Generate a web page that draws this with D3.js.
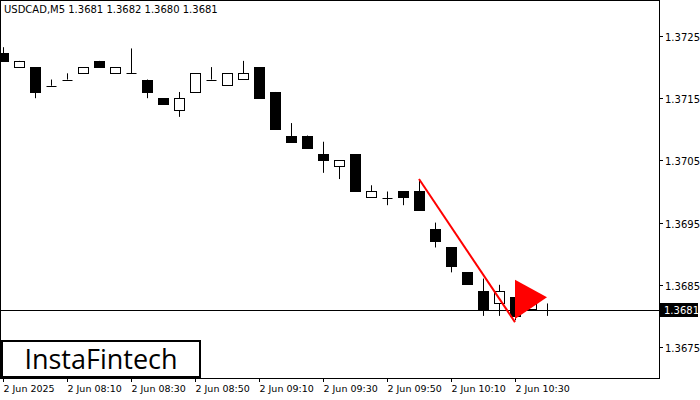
<!DOCTYPE html><html><head><meta charset="utf-8"><script src="https://cdn.jsdelivr.net/npm/d3@7"></script>
<style>body{margin:0;background:#fff}svg{display:block;font-family:Tahoma,"DejaVu Sans",sans-serif}</style></head><body><svg id="c" width="700" height="400"></svg>
<script>
const times=["07:50","07:55","08:00","08:05","08:10","08:15","08:20","08:25","08:30","08:35","08:40","08:45","08:50","08:55","09:00","09:05","09:10","09:15","09:20","09:25","09:30","09:35","09:40","09:45","09:50","09:55","10:00","10:05","10:10","10:15","10:20","10:25","10:30","10:35","10:40"];
const open =[1.37223,1.3720,1.3720,1.3717,1.3718,1.3719,1.3721,1.3719,1.3719,1.3718,1.3715,1.3713,1.3716,1.3718,1.3717,1.3718,1.3720,1.3716,1.3709,1.3709,1.3706,1.3704,1.3706,1.3699,1.3699,1.3700,1.3700,1.3694,1.3691,1.3687,1.3684,1.3682,1.3683,1.3681,1.3681];
const high =[1.37232,1.3721,1.3720,1.3718,1.3719,1.3720,1.3721,1.3720,1.3723,1.3718,1.3715,1.3716,1.3719,1.3720,1.3719,1.3721,1.3720,1.3716,1.3711,1.3709,1.3708,1.3705,1.3706,1.3701,1.3700,1.3700,1.3702,1.3695,1.3691,1.3687,1.3686,1.3685,1.3683,1.3684,1.3682];
const low  =[1.3721,1.3720,1.3715,1.3717,1.3718,1.3719,1.3720,1.3719,1.3719,1.3715,1.3714,1.3712,1.3716,1.3718,1.3717,1.3718,1.3715,1.3710,1.3708,1.3707,1.3703,1.3702,1.3700,1.3699,1.36978,1.36978,1.3697,1.3691,1.3687,1.3685,1.3680,1.3680,1.36793,1.3681,1.3680];
const close=[1.3721,1.3721,1.3716,1.3717,1.3718,1.3720,1.3720,1.3720,1.3719,1.3716,1.3714,1.3715,1.3719,1.3718,1.3719,1.3719,1.3715,1.3710,1.3708,1.3707,1.3705,1.3705,1.3700,1.3700,1.3699,1.3699,1.3697,1.3692,1.3688,1.3685,1.3681,1.3684,1.3680,1.3682,1.3681];
const priceTicks=[1.3725,1.3715,1.3705,1.3695,1.3685,1.3675];
const timeTicks=[0,4,8,12,16,20,24,28,32];
const timeLabels=["2 Jun 2025","2 Jun 08:10","2 Jun 08:30","2 Jun 08:50","2 Jun 09:10","2 Jun 09:30","2 Jun 09:50","2 Jun 10:10","2 Jun 10:30"];
const lastPrice=1.3681;
const patternLine=[[26,1.3702],[32,1.3679]];
const patternTri=[[32,1.36858],[34,1.3683],[32,1.36795]];

const svg=d3.select("#c");
const x=d3.scaleLinear().domain([-0.1875,40.875]).range([0,657]);
const y=d3.scaleLinear().domain([1.3675,1.3725]).range([347,36]);
const AX=659, AY=378;
svg.append("rect").attr("x",0.5).attr("y",0.5).attr("width",AX).attr("height",AY).attr("fill","none").attr("stroke","#000");
const g=svg.append("g");
times.forEach((t,i)=>{
  const cx=Math.round(x(i))+0.5;
  g.append("line").attr("x1",cx).attr("x2",cx).attr("y1",y(high[i])).attr("y2",y(low[i])).attr("stroke","#000");
  const top=y(Math.max(open[i],close[i])), bot=y(Math.min(open[i],close[i]));
  if(bot-top<1){g.append("line").attr("x1",cx-5).attr("x2",cx+5).attr("y1",Math.round(top)+0.5).attr("y2",Math.round(top)+0.5).attr("stroke","#000");}
  else g.append("rect").attr("x",cx-5).attr("y",Math.round(top)+0.5).attr("width",10).attr("height",Math.round(bot-top))
    .attr("fill",close[i]<open[i]?"#000":"#fff").attr("stroke","#000");
});
svg.append("line").attr("x1",0).attr("x2",AX).attr("y1",Math.round(y(lastPrice))+0.5).attr("y2",Math.round(y(lastPrice))+0.5).attr("stroke","#000");
svg.append("line").attr("x1",x(patternLine[0][0])).attr("y1",y(patternLine[0][1])).attr("x2",x(patternLine[1][0])).attr("y2",y(patternLine[1][1])).attr("stroke","#f00").attr("stroke-width",2);
svg.append("polygon").attr("points",patternTri.map(d=>[x(d[0]),y(d[1])].join(",")).join(" ")).attr("fill","#f00");
// price axis
priceTicks.forEach(p=>{const yy=Math.round(y(p))+0.5;
  svg.append("line").attr("x1",AX).attr("x2",AX+4).attr("y1",yy).attr("y2",yy).attr("stroke","#000");
  svg.append("text").attr("x",665).attr("y",yy+4).attr("font-size",10).text(p.toFixed(4));});
svg.append("rect").attr("x",AX+1).attr("y",Math.round(y(lastPrice))-7).attr("width",38).attr("height",14).attr("fill","#000");
svg.append("text").attr("x",664).attr("y",Math.round(y(lastPrice))+4).attr("font-size",10).attr("fill","#fff").text(lastPrice.toFixed(4));
timeTicks.forEach((ti,k)=>{const xx=Math.round(x(ti))+0.5;
  svg.append("line").attr("x1",xx).attr("x2",xx).attr("y1",AY).attr("y2",AY+4).attr("stroke","#000");
  svg.append("text").attr("x",xx).attr("y",392).attr("font-size",9.5).text(timeLabels[k]);});
svg.append("text").attr("x",4).attr("y",13).attr("font-size",10).text("USDCAD,M5  1.3681 1.3682 1.3680 1.3681");
svg.append("rect").attr("x",2).attr("y",341).attr("width",198).attr("height",36).attr("fill","#fff").attr("stroke","#000").attr("stroke-width",2);
svg.append("text").attr("x",101).attr("y",369).attr("text-anchor","middle").attr("font-size",27).attr("font-family","'Open Sans',sans-serif").text("InstaFintech");
</script></body></html>
